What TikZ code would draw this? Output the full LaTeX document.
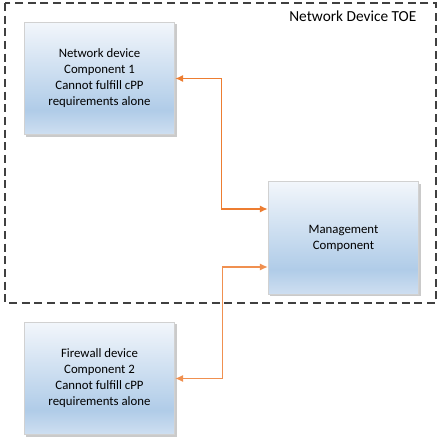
\documentclass[tikz,border=0pt]{standalone}
\usepackage{fontspec}
\setmainfont{Carlito}
\usepackage{xcolor}
\usepackage{tikz}
\usetikzlibrary{arrows.meta,calc,positioning,shadows}

\definecolor{boxlow}{RGB}{207,223,241}
\definecolor{boxmid}{RGB}{176,204,232}
\definecolor{boxtop}{RGB}{242,246,251}
\definecolor{linkorange}{RGB}{237,125,49}
\pgfdeclareverticalshading{boxfill}{100bp}{
    color(0bp)=(boxlow); color(25bp)=(boxlow);
    color(36bp)=(boxmid); color(75bp)=(boxtop);
    color(100bp)=(boxtop)}

\begin{document}
\begin{tikzpicture}[
    x=0.75pt,
    y=-0.75pt,
    compbox/.style={
        draw=black!18,
        line width=0.6pt,
        shading=boxfill,
        drop shadow={shadow xshift=1.5pt,shadow yshift=-1.5pt,fill=black!35,opacity=0.6},
        minimum width=113pt,
        minimum height=84.5pt,
        align=center,
        font=\fontsize{9.6}{12}\selectfont,
        inner sep=0pt
    },
    link/.style={
        draw=linkorange,
        line width=1.1pt,
        {Latex[length=6pt,width=5.5pt]}-{Latex[length=6pt,width=5.5pt]}
    },
    toeframe/.style={
        draw=black!75,
        line width=0.9pt,
        dash pattern=on 6pt off 3.5pt
    }
]
\useasboundingbox (0,0) rectangle (444,445);

% TOE frame
\draw[toeframe] (5,3) rectangle (436,303);
\node[font=\fontsize{11.5}{12}\selectfont,anchor=east] (toe) at (421,16)
{Network Device TOE};

% components
\node[compbox] (net) at (99.5,78.5)
{Network device\\Component 1\\Cannot fulfill cPP\\requirements alone};

\node[compbox] (mgmt) at (343.5,238)
{Management\\Component};

\node[compbox] (fw) at (99.5,378.5)
{Firewall device\\Component 2\\Cannot fulfill cPP\\requirements alone};

% links
\coordinate (mgmtA) at ($(mgmt.west)+(0,-29)$);
\coordinate (mgmtB) at ($(mgmt.west)+(0,29)$);
\coordinate (jA) at ($(net.east)!0.5!(mgmtA)$);
\coordinate (jB) at ($(fw.east)!0.5!(mgmtB)+(1,0)$);

\draw[link] (net.east) -| (jA) |- (mgmtA);
\draw[link,draw=linkorange!85,line width=0.9pt] (fw.east) -| (jB) |- (mgmtB);

\end{tikzpicture}
\end{document}
